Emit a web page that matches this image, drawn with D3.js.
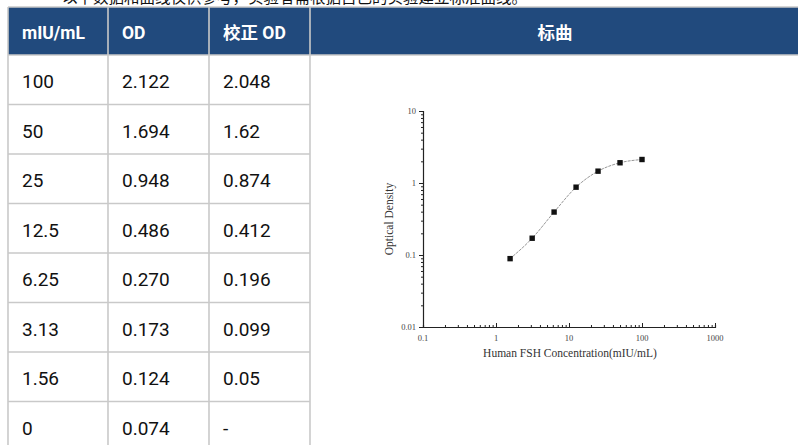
<!DOCTYPE html>
<html>
<head>
<meta charset="utf-8">
<script src="https://cdn.jsdelivr.net/npm/d3@7"></script>
<style>
  body { margin: 0; background: white; }
  svg { display: block; }
</style>
</head>
<body>
<div id="chart"></div>
<script>
// table data
var headers = ["mIU/mL", "OD", "校正 OD", "标曲"];
var concLabels = ["100", "50", "25", "12.5", "6.25", "3.13", "1.56", "0"];
var odLabels = ["2.122", "1.694", "0.948", "0.486", "0.270", "0.173", "0.124", "0.074"];
var corrLabels = ["2.048", "1.62", "0.874", "0.412", "0.196", "0.099", "0.05", "-"];

// curve points as plotted
var curveConc = [1.56, 3.13, 6.25, 12.5, 25, 50, 100];
var curveOD = [0.089, 0.171, 0.395, 0.875, 1.46, 1.91, 2.12];
var xTickLabels = [0.1, 1, 10, 100, 1000];
var yTickLabels = [0.01, 0.1, 1, 10];

width = 798;
height = 445;
colX = [8, 108, 209, 310, 802];
headTop = 7;
headBottom = 55;
rowH = 49.5;
headBlue = "#214a7d";
gridGray = "#c9c9c9";

svg = d3.select("#chart").append("svg")
    .attr("width", width)
    .attr("height", height);

// note text, mostly cut off above the page
svg.append("text")
    .attr("x", 62)
    .attr("y", 3)
    .style("font-family", "'Noto Sans CJK SC'")
    .style("font-size", "15.5px")
    .style("fill", "#111")
    .text("以下数据和曲线仅供参考，实验者需根据自己的实验建立标准曲线。");

// header row
gh = svg.append("g");
gh.append("rect")
    .attr("x", colX[0])
    .attr("y", headTop)
    .attr("width", colX[4] - colX[0])
    .attr("height", headBottom - headTop)
    .style("fill", headBlue);

headers.forEach(function(h, i) {
    var t = gh.append("text")
        .attr("y", (headTop + headBottom) / 2 + 1.5)
        .attr("dy", "0.36em")
        .style("font-family", "Roboto, 'Noto Sans CJK SC'")
        .style("font-weight", "bold")
        .style("font-size", "17.5px")
        .style("fill", "white")
        .text(h);
    if (i < 3) {
        t.attr("x", colX[i] + 14);
    } else {
        t.attr("x", 555).attr("text-anchor", "middle");
    }
});

// body cells
rows = d3.range(concLabels.length).map(function(i) {
    return [concLabels[i], odLabels[i], corrLabels[i]];
});

gb = svg.append("g");
rows.forEach(function(r, i) {
    var y0 = headBottom + i * rowH;
    r.forEach(function(v, j) {
        gb.append("text")
            .attr("x", colX[j] + 14)
            .attr("y", y0 + rowH / 2)
            .attr("dy", "0.44em")
            .style("font-family", "Roboto")
            .style("font-size", "19px")
            .style("fill", "#111")
            .text(v);
    });
});

// grid lines
gl = svg.append("g")
    .style("stroke", gridGray)
    .style("stroke-width", 1.6);
[0, 1, 2, 3].forEach(function(j) {
    gl.append("line")
        .attr("x1", colX[j]).attr("x2", colX[j])
        .attr("y1", headTop).attr("y2", height);
});
gl.append("line")
    .attr("x1", colX[0]).attr("x2", colX[4])
    .attr("y1", headTop).attr("y2", headTop);
gl.append("line")
    .attr("x1", colX[0]).attr("x2", colX[4])
    .attr("y1", headBottom).attr("y2", headBottom);
d3.range(1, rows.length).forEach(function(i) {
    gl.append("line")
        .attr("x1", colX[0]).attr("x2", colX[3])
        .attr("y1", headBottom + i * rowH).attr("y2", headBottom + i * rowH);
});

// standard curve plot
x = d3.scaleLog().domain([0.1, 1000]).range([423, 715]);
y = d3.scaleLog().domain([0.01, 10]).range([327, 111]);

function isDecade(d) {
    return Math.abs(Math.log10(d) - Math.round(Math.log10(d))) < 1e-6;
}

gc = svg.append("g")
    .style("font-family", "'Liberation Serif'");

yAxis = gc.append("g")
    .attr("transform", "translate(" + x(0.1) + ",0)")
    .call(d3.axisLeft(y).tickSizeOuter(0).tickSize(2).tickFormat(""));
yAxis.selectAll(".tick")
    .filter(isDecade)
    .select("line").attr("x2", -4);
gc.append("g")
    .selectAll("text")
    .data(yTickLabels)
    .join("text")
    .attr("x", x(0.1) - 7)
    .attr("y", function(d) { return y(d); })
    .attr("dy", "0.35em")
    .attr("text-anchor", "end")
    .style("font-size", "8.5px")
    .style("fill", "#444")
    .text(function(d) { return d; });

xAxis = gc.append("g")
    .attr("transform", "translate(0," + y(0.01) + ")")
    .call(d3.axisBottom(x).tickSizeOuter(0).tickSize(-2).tickFormat(""));
xAxis.selectAll(".tick")
    .filter(isDecade)
    .select("line").attr("y2", -4);
gc.append("g")
    .selectAll("text")
    .data(xTickLabels)
    .join("text")
    .attr("x", function(d) { return x(d); })
    .attr("y", y(0.01) + 14)
    .attr("text-anchor", "middle")
    .style("font-size", "8.5px")
    .style("fill", "#444")
    .text(function(d) { return d; });

gc.selectAll(".domain").style("stroke", "#222").style("stroke-width", 1.2);
gc.selectAll(".tick line").style("stroke", "#222");

gc.append("text")
    .attr("transform", "translate(393,219) rotate(-90)")
    .attr("text-anchor", "middle")
    .style("font-size", "11.5px")
    .style("fill", "#333")
    .text("Optical Density");

gc.append("text")
    .attr("x", 570)
    .attr("y", 357)
    .attr("text-anchor", "middle")
    .style("font-size", "11.5px")
    .style("fill", "#333")
    .text("Human FSH Concentration(mIU/mL)");

pts = curveConc.map(function(c, i) { return [c, curveOD[i]]; });

line = d3.line()
    .x(function(d) { return x(d[0]); })
    .y(function(d) { return y(d[1]); })
    .curve(d3.curveMonotoneX);

gc.append("path")
    .datum(pts)
    .attr("d", line)
    .style("fill", "none")
    .style("stroke", "#8a8a8a")
    .style("stroke-width", 0.9)
    .style("stroke-dasharray", "3,1");

gc.selectAll(".pt")
    .data(pts)
    .join("rect")
    .attr("class", "pt")
    .attr("x", function(d) { return x(d[0]) - 2.7; })
    .attr("y", function(d) { return y(d[1]) - 2.7; })
    .attr("width", 5.4)
    .attr("height", 5.4)
    .style("fill", "#111");
</script>
</body>
</html>
